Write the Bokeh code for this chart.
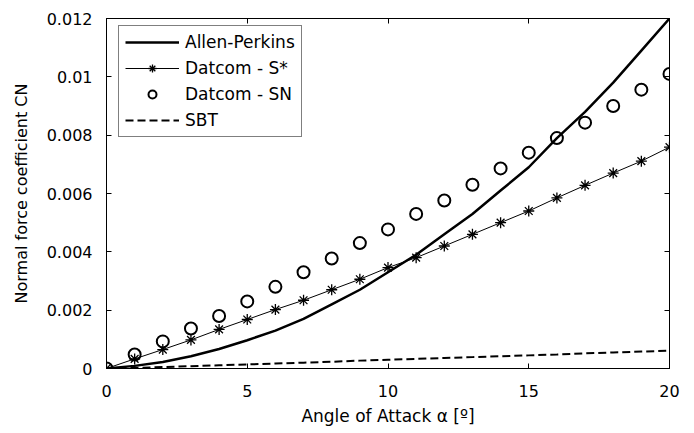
from bokeh.plotting import figure
from bokeh.models import (LinearAxis, Legend, LegendItem, Range1d, FixedTicker,
                          CustomJSTickFormatter)
from bokeh.embed import file_html
from bokeh.resources import INLINE

# ---- data ----
alpha = list(range(21))
allen_perkins = [0.0, 0.00009, 0.00022, 0.00042, 0.00067, 0.00097, 0.0013, 0.0017,
                 0.0022, 0.0027, 0.0033, 0.0039, 0.0046, 0.0053, 0.0061, 0.0069,
                 0.0079, 0.0088, 0.0098, 0.0109, 0.012]
datcom_s_star = [0.0, 0.00033, 0.00065, 0.00098, 0.00134, 0.00168, 0.00202, 0.00234,
                 0.0027, 0.00306, 0.00346, 0.0038, 0.0042, 0.0046, 0.005, 0.0054,
                 0.00585, 0.00628, 0.0067, 0.00711, 0.00759]
datcom_sn = [0.0, 0.00048, 0.00093, 0.00137, 0.0018, 0.0023, 0.0028, 0.0033,
             0.00377, 0.0043, 0.00477, 0.0053, 0.00576, 0.0063, 0.00686, 0.0074,
             0.0079, 0.00843, 0.009, 0.00956, 0.0101]
sbt = [0.0, 0.00002, 0.00005, 0.00008, 0.00011, 0.00014, 0.00017, 0.0002, 0.00023,
       0.00027, 0.0003, 0.00033, 0.00036, 0.00039, 0.00042, 0.00045, 0.00048,
       0.00052, 0.00055, 0.00058, 0.00061]
x_ticks = [0, 5, 10, 15, 20]
y_ticks = [0, 0.002, 0.004, 0.006, 0.008, 0.01, 0.012]
series_names = ["Allen-Perkins", "Datcom - S*", "Datcom - SN", "SBT"]
x_label = "Angle of Attack \u03b1 [\u00ba]"
y_label = "Normal force coefficient CN"

FONT = "DejaVu Sans"

p = figure(width=694, height=433, output_backend="svg", toolbar_location=None,
           x_range=Range1d(0, 20), y_range=Range1d(0, 0.012),
           min_border_left=106, min_border_right=25, min_border_top=18,
           min_border_bottom=65, background_fill_color="white",
           border_fill_color="white")
p.xgrid.grid_line_color = None
p.ygrid.grid_line_color = None
p.outline_line_color = "black"
p.outline_line_width = 1

fmt = CustomJSTickFormatter(code="return String(Number(tick.toPrecision(6)));")
blank = CustomJSTickFormatter(code="return '';")

for ax in p.xaxis:
    ax.ticker = FixedTicker(ticks=x_ticks)
    ax.axis_label = x_label
    ax.axis_label_standoff = 6
    ax.major_label_standoff = 16
    ax.axis_label_text_font_size = "17px"
for ax in p.yaxis:
    ax.ticker = FixedTicker(ticks=y_ticks)
    ax.formatter = fmt
    ax.axis_label = y_label
    ax.axis_label_standoff = 13
    ax.major_label_standoff = 14
    ax.axis_label_text_font_size = "16px"

for ax in p.axis:
    ax.major_tick_in = 5
    ax.major_tick_out = 0
    ax.minor_tick_in = 0
    ax.minor_tick_out = 0
    ax.axis_line_color = "black"
    ax.major_tick_line_color = "black"
    ax.major_label_text_font = FONT
    ax.major_label_text_font_size = "16px"
    ax.major_label_text_color = "black"
    ax.axis_label_text_font = FONT
    ax.axis_label_text_font_style = "normal"
    ax.axis_label_text_color = "black"

top = LinearAxis(ticker=FixedTicker(ticks=x_ticks), formatter=blank,
                 major_label_text_font_size="8px",
                 major_tick_in=5, major_tick_out=0, minor_tick_in=0, minor_tick_out=0,
                 major_label_standoff=0)
right = LinearAxis(ticker=FixedTicker(ticks=y_ticks), formatter=blank,
                   major_label_text_font_size="8px",
                   major_tick_in=5, major_tick_out=0, minor_tick_in=0, minor_tick_out=0,
                   major_label_standoff=0)
p.add_layout(top, "above")
p.add_layout(right, "right")

r_ap = p.line(alpha, allen_perkins, line_color="black", line_width=2.5)
r_sl = p.line(alpha, datcom_s_star, line_color="black", line_width=1)
r_sm = p.scatter(alpha, datcom_s_star, marker="asterisk", size=11,
                 line_color="black", line_width=1.3)
r_sn = p.scatter(alpha, datcom_sn, marker="circle", size=12, fill_color=None,
                 line_color="black", line_width=2)
r_sbt = p.line(alpha, sbt, line_color="black", line_width=2, line_dash="8 4")

legend = Legend(items=[
    LegendItem(label=series_names[0], renderers=[r_ap]),
    LegendItem(label=series_names[1], renderers=[r_sl, r_sm]),
    LegendItem(label=series_names[2], renderers=[r_sn]),
    LegendItem(label=series_names[3], renderers=[r_sbt]),
], location=(12, 231))
legend.label_text_font = FONT
legend.label_text_font_size = "17px"
legend.label_text_color = "black"
legend.glyph_width = 54
legend.glyph_height = 20
legend.label_height = 20
legend.spacing = 6
legend.padding = 6
legend.label_standoff = 6
legend.border_line_color = "black"
legend.border_line_width = 1
legend.background_fill_alpha = 1
legend.margin = 0
p.add_layout(legend)

open("out.html", "w").write(file_html(p, INLINE))
